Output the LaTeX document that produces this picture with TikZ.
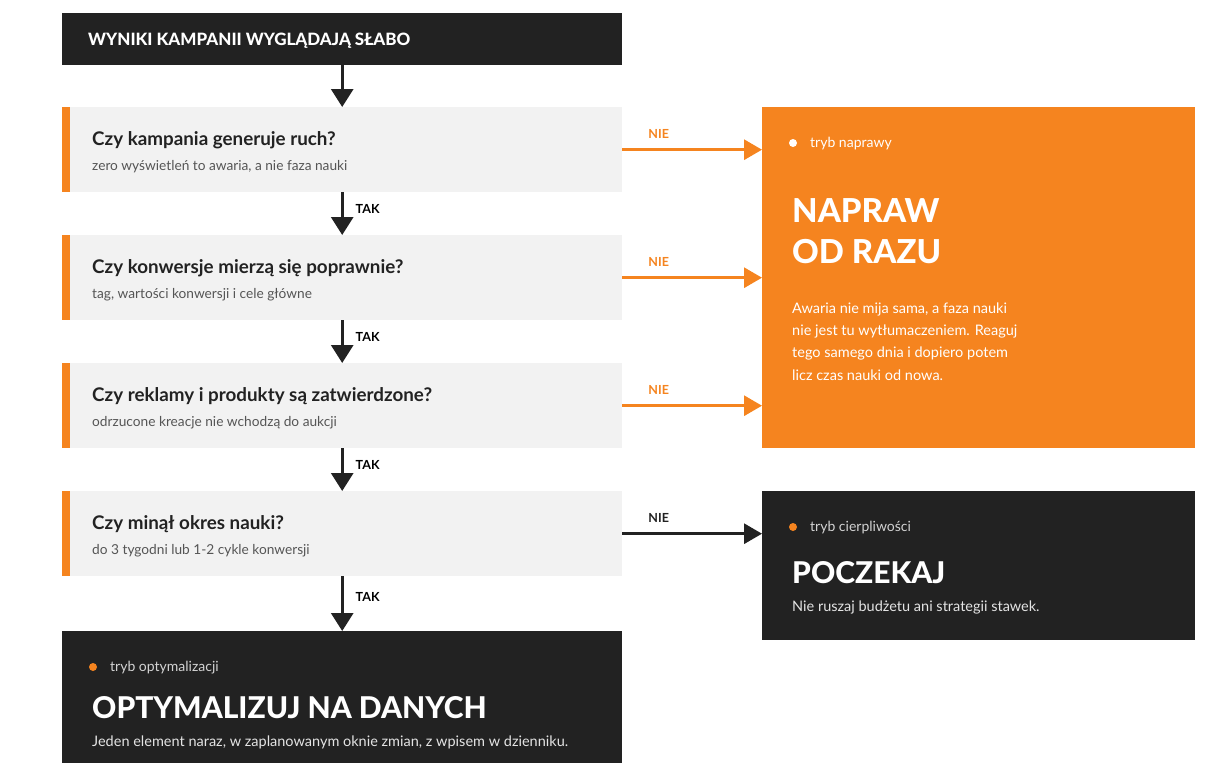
\documentclass[tikz,border=0pt]{standalone}
\usepackage{fontspec}
\setmainfont{Lato}
\newfontface\heavyface{Lato Heavy}
\usetikzlibrary{arrows,arrows.meta,positioning}
\definecolor{brand}{HTML}{F5841F}
\definecolor{ink}{HTML}{222222}
\definecolor{paper}{HTML}{F2F2F2}
\definecolor{muted}{HTML}{555555}

\begin{document}
\begin{tikzpicture}[x=1pt,y=-1pt,
	header/.style={rectangle, fill=ink, anchor=north west, minimum width=560pt, minimum height=52pt, inner sep=0pt},
	question/.style={rectangle, fill=paper, anchor=north west, minimum width=560pt, minimum height=85pt, inner sep=0pt},
	panel/.style={rectangle, fill=#1, anchor=north west, minimum width=433pt, inner sep=0pt},
	txt/.style={anchor=base west, inner sep=0pt, align=left},
	qtitle/.style={txt, font=\bfseries\fontsize{18.8}{22}\selectfont, text=ink},
	qsub/.style={txt, font=\fontsize{13.7}{16}\selectfont, text=muted},
	mode/.style={txt, font=\fontsize{14}{16}\selectfont},
	verdict/.style={txt, font=\heavyface\fontsize{33}{41}\selectfont, text=white},
	note/.style={txt, font=\fontsize{14.5}{22.3}\selectfont},
	links/.style={-{Triangle[width=22pt,length=18pt]}, line width=3pt, draw=ink},
	fail/.style={-{Triangle[width=20pt,length=18pt]}, line width=3pt, draw=#1},
	answer/.style={font=\bfseries\fontsize{12.5}{15}\selectfont, inner sep=0pt}]

	\useasboundingbox (0,0) rectangle (1206,782);

	% start
	\node[header] (start) at (62,13) {};
	\node[txt, font=\heavyface\fontsize{17}{18}\selectfont, text=white] (start-text) at (88,45) {WYNIKI KAMPANII WYGLĄDAJĄ SŁABO};

	% questions
	\node[question] (q1) at (62,107) {};
	\fill[brand] (q1.north west) rectangle ++(8,85);
	\node[qtitle] (q1-title) at (92,145) {Czy kampania generuje ruch?};
	\node[qsub] (q1-sub) at (92,170) {zero wyświetleń to awaria, a nie faza nauki};

	\node[question] (q2) at (62,235) {};
	\fill[brand] (q2.north west) rectangle ++(8,85);
	\node[qtitle] (q2-title) at (92,273) {Czy konwersje mierzą się poprawnie?};
	\node[qsub] (q2-sub) at (92,298) {tag, wartości konwersji i cele główne};

	\node[question] (q3) at (62,363) {};
	\fill[brand] (q3.north west) rectangle ++(8,85);
	\node[qtitle] (q3-title) at (92,401) {Czy reklamy i produkty są zatwierdzone?};
	\node[qsub] (q3-sub) at (92,426) {odrzucone kreacje nie wchodzą do aukcji};

	\node[question] (q4) at (62,491) {};
	\fill[brand] (q4.north west) rectangle ++(8,85);
	\node[qtitle] (q4-title) at (92,529) {Czy minął okres nauki?};
	\node[qsub] (q4-sub) at (92,554) {do 3 tygodni lub 1-2 cykle konwersji};

	% outcomes
	\node[panel=brand, minimum height=341pt] (fix) at (762,107) {};
	\fill[white] (793,143) circle (4);
	\node[mode, text=white] (fix-mode) at (810,147) {tryb naprawy};
	\node[verdict] (fix-title) at (792,263) {NAPRAW\\OD RAZU};
	\node[note, text=white] (fix-note) at (792,380) {Awaria nie mija sama, a faza nauki\\nie jest tu wytłumaczeniem. Reaguj\\tego samego dnia i dopiero potem\\licz czas nauki od nowa.};

	\node[panel=ink, minimum height=149pt] (wait) at (762,491) {};
	\fill[brand] (793,527) circle (4);
	\node[mode, text=white!80!ink] (wait-mode) at (810,531) {tryb cierpliwości};
	\node[verdict, font=\heavyface\fontsize{30}{34}\selectfont] (wait-title) at (792,583) {POCZEKAJ};
	\node[note, text=white!88!ink] (wait-note) at (792,611) {Nie ruszaj budżetu ani strategii stawek.};

	\node[header, minimum height=132pt] (opt) at (62,631) {};
	\fill[brand] (93,667) circle (4);
	\node[mode, text=white!80!ink] (opt-mode) at (110,671) {tryb optymalizacji};
	\node[verdict, font=\heavyface\fontsize{30}{34}\selectfont] (opt-title) at (92,718) {OPTYMALIZUJ NA DANYCH};
	\node[note, text=white!88!ink] (opt-note) at (92,746) {Jeden element naraz, w zaplanowanym oknie zmian, z wpisem w dzienniku.};

	% TAK
	\draw[links] (start) -- (q1);
	\draw[links] (q1) -- node[answer, anchor=west, pos=0.38, xshift=12pt] {TAK} (q2);
	\draw[links] (q2) -- node[answer, anchor=west, pos=0.38, xshift=12pt] {TAK} (q3);
	\draw[links] (q3) -- node[answer, anchor=west, pos=0.38, xshift=12pt] {TAK} (q4);
	\draw[links] (q4) -- node[answer, anchor=west, pos=0.38, xshift=12pt] {TAK} (opt);

	% NIE
	\draw[fail=brand] (q1.east) -- node[answer, text=brand, pos=0.26, yshift=16pt] {NIE} (q1.east -| fix.west);
	\draw[fail=brand] (q2.east) -- node[answer, text=brand, pos=0.26, yshift=16pt] {NIE} (q2.east -| fix.west);
	\draw[fail=brand] (q3.east) -- node[answer, text=brand, pos=0.26, yshift=16pt] {NIE} (q3.east -| fix.west);
	\draw[fail=ink] (q4.east) -- node[answer, text=ink, pos=0.26, yshift=16pt] {NIE} (q4.east -| wait.west);

\end{tikzpicture}
\end{document}
